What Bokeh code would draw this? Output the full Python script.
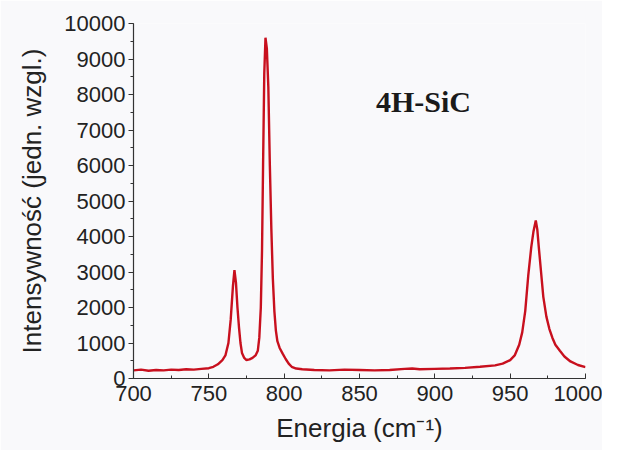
from bokeh.plotting import figure
from bokeh.models import Range1d, Label, FixedTicker
from bokeh.embed import file_html
from bokeh.resources import INLINE

# Raman spectrum of 4H-SiC
energy = [700, 705, 710, 715, 720, 725, 730, 735, 740, 745, 750, 753, 756, 759,
          761, 763, 764.5, 766, 767, 768, 769, 770, 771, 772, 773.5, 775, 777,
          779, 781, 782.5, 783.5, 784.5, 785.3, 786, 786.8, 787.6, 788.5, 789.5,
          790.5, 791.5, 792.5, 793.5, 794.5, 795.5, 797, 799, 801, 803, 805, 808,
          812, 820, 830, 840, 850, 860, 870, 880, 885, 890, 900, 910, 920, 930,
          940, 945, 950, 953, 956, 958, 960, 962, 964, 965.5, 967, 968, 969,
          970.5, 972, 974, 976, 978, 980, 983, 986, 990, 995, 1000]
intensity = [230, 250, 220, 240, 230, 250, 240, 260, 250, 270, 290, 330, 400, 520,
             650, 1000, 1650, 2600, 3050, 2700, 2000, 1450, 1000, 720, 580, 520, 540,
             580, 650, 780, 1150, 2000, 3600, 6000, 8600, 9600, 9300, 8200,
             6000, 4200, 2800, 1900, 1350, 1050, 860, 700, 550, 420, 330, 280,
             260, 240, 230, 250, 240, 230, 240, 270, 280, 260, 270, 280, 300, 330,
             370, 420, 520, 650, 950, 1300, 1900, 2900, 3700, 4150, 4450, 4200, 3700,
             3000, 2300, 1750, 1400, 1150, 950, 780, 620, 480, 380, 320]

x_ticks = [700, 750, 800, 850, 900, 950, 1000]
y_ticks = [0, 1000, 2000, 3000, 4000, 5000, 6000, 7000, 8000, 9000, 10000]
x_label = "Energia (cm\u207b\u00b9)"
y_label = "Intensywność (jedn. wzgl.)"
sample_name = "4H-SiC"
sample_pos = (892.5, 7800)

BG = "#f9f9fb"
FONT = "Liberation Sans"

p = figure(width=602, height=450, output_backend="svg", toolbar_location=None,
           x_range=Range1d(700, 1000), y_range=Range1d(0, 10000),
           min_border_left=133, min_border_right=17, min_border_top=23,
           min_border_bottom=72, background_fill_color=BG, border_fill_color=BG)
p.outline_line_color = None
p.grid.visible = False

p.line(energy, intensity, line_color="#c8101e", line_width=2.4)

xa = p.xaxis[0]
xa.ticker = FixedTicker(ticks=x_ticks, minor_ticks=list(range(700, 1001, 25)))
xa.major_tick_in = 5
xa.major_tick_out = 0
xa.minor_tick_in = 3
xa.minor_tick_out = 0
xa.major_label_standoff = 7
xa.axis_label = x_label
xa.axis_label_standoff = 9

ya = p.yaxis[0]
ya.ticker = FixedTicker(ticks=y_ticks, minor_ticks=list(range(0, 10001, 500)))
ya.major_tick_in = 0
ya.major_tick_out = 5
ya.minor_tick_in = 0
ya.minor_tick_out = 3
ya.major_label_standoff = 3
ya.axis_label = y_label
ya.axis_label_standoff = 14

for ax in (xa, ya):
    ax.axis_line_color = "#333333"
    ax.axis_line_width = 1.2
    ax.major_tick_line_color = "#333333"
    ax.minor_tick_line_color = "#333333"
    ax.major_label_text_font = FONT
    ax.major_label_text_font_size = "22px"
    ax.major_label_text_color = "#222222"
    ax.axis_label_text_font = FONT
    ax.axis_label_text_font_size = "26px"
    ax.axis_label_text_font_style = "normal"
    ax.axis_label_text_color = "#222222"

p.add_layout(Label(x=sample_pos[0], y=sample_pos[1], text=sample_name,
                   text_font="Liberation Serif", text_font_style="bold",
                   text_font_size="30px", text_align="center",
                   text_baseline="middle", text_color="#1a1a1a"))

open("out.html", "w").write(file_html(p, INLINE))
